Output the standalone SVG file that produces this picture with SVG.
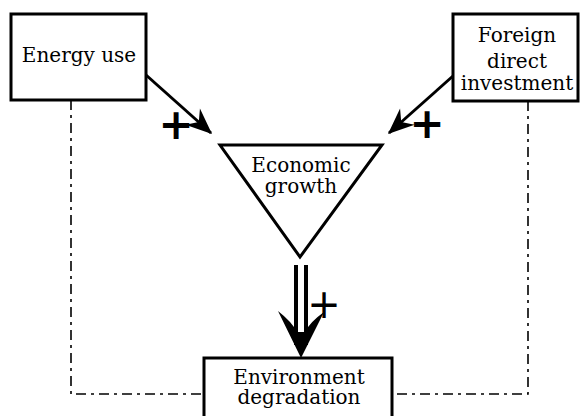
<svg xmlns="http://www.w3.org/2000/svg" width="581" height="416" viewBox="0 0 581 416">
<style>
.box{fill:#fff;stroke:#000;stroke-width:3}
.lbl{font-family:"DejaVu Serif",serif;font-size:20px;fill:#000;text-anchor:middle}
.arr{stroke:#000;stroke-width:3;fill:none}
.dd{stroke:#000;stroke-width:1.6;fill:none;stroke-dasharray:10,5,3,5}
.plus{font-family:"DejaVu Sans",sans-serif;fill:#000;text-anchor:middle}
</style>
<defs>
<marker id="ah" markerUnits="userSpaceOnUse" markerWidth="30" markerHeight="30" refX="0" refY="0" viewBox="-20 -10 22 20" orient="auto">
<path d="M1,0 L-18,-8 L-12,0 L-18,8 Z" fill="#000"/>
</marker>
</defs>
<g id="connectors">
<path class="dd" d="M71,100 V394 H204"/>
<path class="dd" d="M528,101 V394 H392"/>
<line class="arr" x1="146" y1="75" x2="211" y2="133" marker-end="url(#ah)"/>
<line class="arr" x1="453" y1="76" x2="389" y2="133" marker-end="url(#ah)"/>
<line x1="296" y1="265" x2="296" y2="345" stroke="#000" stroke-width="4"/>
<line x1="306" y1="265" x2="306" y2="345" stroke="#000" stroke-width="4"/>
<path d="M301,358 L278,311 Q292,322 297,332 L305,332 Q310,322 324,312 Z" fill="#000"/>
<text class="plus" x="176" y="139" font-size="42" font-weight="bold">+</text>
<text class="plus" x="427" y="138" font-size="42" font-weight="bold">+</text>
<text class="plus" x="324" y="318" font-size="40">+</text>
</g>
<g id="energy">
<rect class="box" x="11" y="14" width="135" height="86"/>
<text class="lbl" x="79" y="62">Energy use</text>
</g>
<g id="fdi">
<rect class="box" x="453" y="14" width="125" height="87"/>
<text class="lbl" x="517" y="42">Foreign</text>
<text class="lbl" x="517" y="68">direct</text>
<text class="lbl" x="517" y="90">investment</text>
</g>
<g id="growth">
<path class="box" d="M220,145 L382,145 L300,257 Z"/>
<text class="lbl" x="301" y="172">Economic</text>
<text class="lbl" x="301" y="193">growth</text>
</g>
<g id="environment">
<rect class="box" x="204" y="358" width="188" height="70"/>
<text class="lbl" x="299" y="384">Environment</text>
<text class="lbl" x="299" y="404">degradation</text>
</g>
</svg>
